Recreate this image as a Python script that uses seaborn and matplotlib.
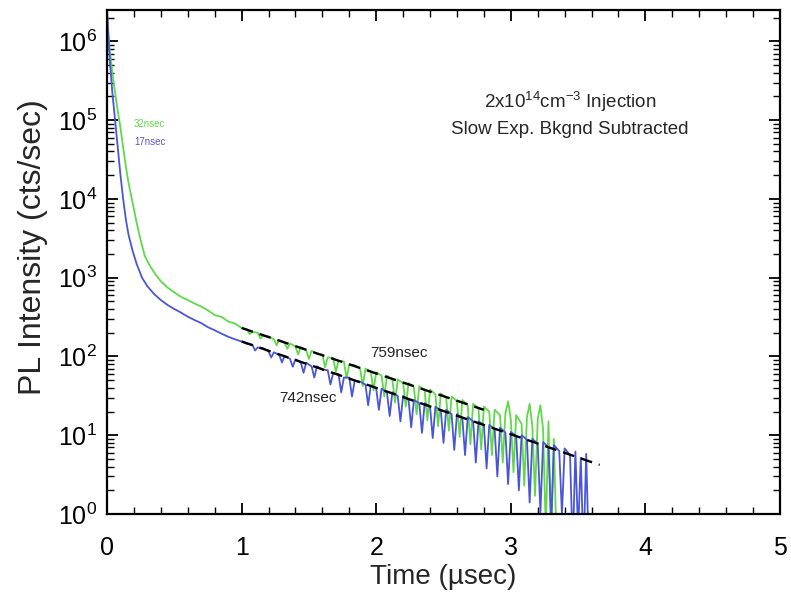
import matplotlib
matplotlib.use("Agg")
import matplotlib.pyplot as plt
import seaborn as sns
import pandas as pd
from matplotlib.ticker import LogLocator, MultipleLocator, NullFormatter, FixedLocator, FixedFormatter

# ---------------- data ----------------
time_green_early = [0, 0.01, 0.02, 0.04, 0.06, 0.08, 0.10, 0.12, 0.14, 0.16, 0.19, 0.22,
                    0.25, 0.28, 0.32, 0.36, 0.40, 0.45, 0.50, 0.55, 0.60, 0.65, 0.70, 0.75,
                    0.80, 0.85, 0.90, 0.95]
pl_green_early = [2.2e6, 1.3e6, 8.0e5, 4.0e5, 2.2e5, 1.3e5, 8.0e4, 4.5e4, 2.6e4, 1.6e4, 9000, 5000,
                  3000, 1900, 1400, 1100, 900, 750, 650, 570, 520, 470, 430, 385,
                  335, 318, 278, 262]

time_blue_early = [0, 0.01, 0.02, 0.04, 0.06, 0.08, 0.10, 0.12, 0.14, 0.16, 0.19, 0.22,
                   0.26, 0.30, 0.35, 0.40, 0.45, 0.50, 0.55, 0.60, 0.65, 0.70, 0.75, 0.80,
                   0.85, 0.90, 0.95]
pl_blue_early = [2.6e6, 1.2e6, 6.0e5, 2.2e5, 1.0e5, 4.5e4, 2.0e4, 1.0e4, 5500, 3500, 2200, 1500,
                 1000, 780, 620, 520, 450, 400, 360, 320, 290, 265, 235, 215,
                 195, 178, 165]

time_green_tail = [1.00, 1.04, 1.06, 1.08, 1.12, 1.14, 1.16, 1.20, 1.24, 1.26,
                   1.28, 1.32, 1.34, 1.36, 1.40, 1.42, 1.44, 1.48, 1.50, 1.52,
                   1.56, 1.60, 1.62, 1.64, 1.68, 1.70, 1.72, 1.76, 1.78, 1.80,
                   1.84, 1.88, 1.90, 1.92, 1.96, 1.98, 2.00, 2.04, 2.06, 2.08,
                   2.12, 2.14, 2.16, 2.20, 2.22, 2.24, 2.28, 2.30, 2.32, 2.36,
                   2.38, 2.40, 2.44, 2.46, 2.48, 2.52, 2.54, 2.56, 2.60, 2.62,
                   2.64, 2.68, 2.70, 2.72, 2.76, 2.78, 2.80, 2.84, 2.86, 2.88,
                   2.92, 2.94, 2.96, 2.98, 3.00, 3.02, 3.04, 3.08, 3.10, 3.12,
                   3.14, 3.16, 3.18, 3.20, 3.22, 3.24, 3.26, 3.28, 3.30, 3.32,
                   3.34]
pl_green_tail = [230, 222, 192, 205, 200, 169, 184, 180, 165, 139,
                 162, 149, 125, 146, 134, 106, 132, 120, 93, 118,
                 108, 106, 73, 97, 96, 64, 88, 86, 53, 79,
                 78, 71, 42, 70, 64, 37, 63, 57, 31, 57,
                 51, 26, 51, 46, 23, 46, 41, 18.5, 42, 37,
                 15.5, 38, 33, 13, 34, 30, 11.4, 31, 27, 9.5,
                 28, 24, 7.7, 25, 22, 6.6, 23, 20, 5.6, 21,
                 18, 4.5, 19, 27, 16, 3.4, 18, 14, 2.3, 17,
                 25, 13, 1.7, 16, 24, 12, 0.6, 15, 0.5, 9,
                 0.4]

time_blue_tail = [1.00, 1.04, 1.08, 1.10, 1.12, 1.16, 1.20, 1.22, 1.24, 1.28,
                  1.30, 1.32, 1.36, 1.38, 1.40, 1.44, 1.46, 1.48, 1.52, 1.54,
                  1.56, 1.60, 1.64, 1.66, 1.68, 1.72, 1.74, 1.76, 1.80, 1.82,
                  1.84, 1.88, 1.92, 1.94, 1.96, 2.00, 2.02, 2.04, 2.08, 2.10,
                  2.12, 2.16, 2.18, 2.20, 2.24, 2.26, 2.28, 2.32, 2.34, 2.36,
                  2.40, 2.42, 2.44, 2.48, 2.50, 2.52, 2.56, 2.58, 2.60, 2.64,
                  2.66, 2.68, 2.72, 2.74, 2.76, 2.80, 2.82, 2.84, 2.88, 2.90,
                  2.92, 2.96, 2.98, 3.00, 3.04, 3.06, 3.08, 3.12, 3.14, 3.16,
                  3.20, 3.22, 3.24, 3.28, 3.30, 3.32, 3.36, 3.38, 3.40, 3.44,
                  3.46, 3.48, 3.50, 3.52, 3.54, 3.56, 3.58]
pl_blue_tail = [155, 145, 141, 119, 130, 127, 116, 97, 113, 104,
                84, 102, 93, 74, 92, 84, 62, 83, 75, 54,
                75, 68, 67, 44, 61, 60, 35, 54, 54, 31,
                49, 48, 44, 24, 43, 39, 21, 39, 35, 17.5,
                35, 31.5, 15, 31.5, 28.5, 12.6, 28, 25.5, 10.7, 25.5,
                23, 9.2, 23, 20.5, 8, 21, 18.5, 6.5, 18.5, 16.5,
                5.6, 17, 15, 4.5, 15, 13.5, 3.8, 13.5, 12, 3.0,
                12.5, 10.8, 2.4, 11, 9.8, 2.0, 10, 8.8, 1.4, 9,
                7.8, 1.04, 8.2, 7, 0.72, 7.5, 6.3, 1.0, 6.8, 5.6,
                0.36, 6.2, 0.57, 5.2, 0.3, 5.8, 0.3]

fit_green_t = [1.0, 2.8]
fit_green_pl = [230, 21]
fit_blue_t = [1.0, 3.66]
fit_blue_pl = [155, 4.2]

x_ticks = [0, 1, 2, 3, 4, 5]
y_ticks = [1, 10, 100, 1e3, 1e4, 1e5, 1e6]
y_tick_labels = [r"$10^{0}$", r"$10^{1}$", r"$10^{2}$", r"$10^{3}$", r"$10^{4}$", r"$10^{5}$", r"$10^{6}$"]

# ---------------- style ----------------
sns.set_style("ticks")
plt.rcParams['font.family'] = ['Liberation Sans', 'DejaVu Sans']
plt.rcParams['mathtext.fontset'] = 'custom'
plt.rcParams['mathtext.rm'] = 'Liberation Sans'
plt.rcParams['mathtext.it'] = 'Liberation Sans:italic'
plt.rcParams['mathtext.bf'] = 'Liberation Sans:bold'

GREEN = "#5fd94a"
BLUE = "#4a56d8"

fig = plt.figure(figsize=(7.91, 5.94), dpi=100)
ax = fig.add_axes([107 / 791, 80 / 594, 673 / 791, 504 / 594])

green = pd.DataFrame({"t": time_green_early + time_green_tail,
                      "pl": pl_green_early + pl_green_tail})
blue = pd.DataFrame({"t": time_blue_early + time_blue_tail,
                     "pl": pl_blue_early + pl_blue_tail})

sns.lineplot(data=green, x="t", y="pl", ax=ax, color=GREEN, lw=1.3, estimator=None, sort=False)
sns.lineplot(data=blue, x="t", y="pl", ax=ax, color=BLUE, lw=1.3, estimator=None, sort=False)
sns.lineplot(x=fit_green_t, y=fit_green_pl, ax=ax, color="black", lw=1.7,
             linestyle=(0, (5, 3)), estimator=None)
sns.lineplot(x=fit_blue_t, y=fit_blue_pl, ax=ax, color="black", lw=1.7,
             linestyle=(0, (5, 3)), estimator=None)

ax.set_yscale("log")
ax.set_xlim(0, 5)
ax.set_ylim(1, 2.5e6)

ax.xaxis.set_major_locator(FixedLocator(x_ticks))
ax.xaxis.set_minor_locator(MultipleLocator(0.2))
ax.yaxis.set_major_locator(FixedLocator(y_ticks))
ax.yaxis.set_major_formatter(FixedFormatter(y_tick_labels))
ax.yaxis.set_minor_locator(LogLocator(base=10, subs=range(2, 10), numticks=20))
ax.yaxis.set_minor_formatter(NullFormatter())

ax.tick_params(which="both", direction="in", top=True, right=True, colors="black")
ax.tick_params(which="major", length=8, width=1.3)
ax.tick_params(which="minor", length=5, width=1.0)
ax.tick_params(axis="x", labelsize=18, pad=16)
ax.tick_params(axis="y", labelsize=18, pad=7)
for s in ax.spines.values():
    s.set_linewidth(1.6)
    s.set_color("black")

ax.set_xlabel("Time (µsec)", fontsize=20, labelpad=3)
ax.set_ylabel("PL Intensity (cts/sec)", fontsize=23)
ax.yaxis.set_label_coords(-0.088, 0.53)

ax.text(3.44, 1.7e5, r"2x10$^{14}$cm$^{-3}$ Injection", fontsize=13.5, ha="center", va="center")
ax.text(3.44, 7.7e4, "Slow Exp. Bkgnd Subtracted", fontsize=13.5, ha="center", va="center")
ax.text(2.17, 110, "759nsec", fontsize=11, ha="center", va="center", color="#222222")
ax.text(1.49, 30, "742nsec", fontsize=11, ha="center", va="center", color="#222222")
ax.text(0.20, 9.0e4, "32nsec", fontsize=7, ha="left", va="center", color=GREEN)
ax.text(0.20, 5.3e4, "17nsec", fontsize=7, ha="left", va="center", color="#5a55c8")

fig.savefig("out.png", dpi=100)
